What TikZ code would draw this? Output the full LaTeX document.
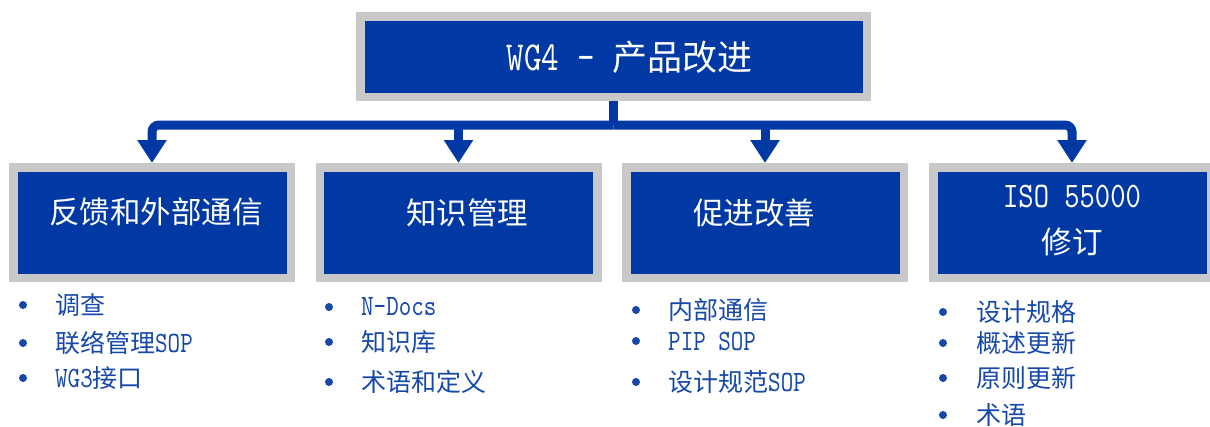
\documentclass[tikz,border=0pt]{standalone}
\usepackage{fontspec}
\setmainfont{Noto Sans CJK SC}
\newfontfamily\lat[Scale=1.18,FakeStretch=0.81]{lmmono10-regular.otf}
\usetikzlibrary{arrows.meta}
\definecolor{boxblue}{RGB}{0,57,163}
\definecolor{boxgray}{RGB}{200,200,200}
\definecolor{txtblue}{RGB}{22,72,170}
\begin{document}
\begin{tikzpicture}[x=1pt,y=-1pt,
  box/.style={draw=boxgray, fill=boxblue, line width=8.5pt, minimum width=277.5pt, minimum height=110.5pt, inner sep=0pt},
  topbox/.style={box, minimum width=506.5pt, minimum height=80.5pt},
  title/.style={text=white, font=\fontsize{30.5}{36}\selectfont, inner sep=0pt},
  item/.style={text=txtblue, font=\fontsize{25}{30}\selectfont, anchor=west, inner sep=0pt},
  bul/.style={fill=txtblue},
  conn/.style={draw=boxblue, line width=9pt},
  arr/.style={conn, -{Triangle[width=28pt,length=23pt]}},
]
\useasboundingbox (0,0) rectangle (1210,426);
\clip (0,0) rectangle (1210,426);

% boxes
\node[topbox] (top) at (613.5,56.5) {};
\node[box] (b1) at (152,222.5) {};
\node[box] (b2) at (458.5,222.5) {};
\node[box] (b3) at (765,222.5) {};
\node[box] (b4) at (1072,222.5) {};

% titles
\node[title, font=\fontsize{35}{40}\selectfont] (ttop) at (629.5,57) {{\lat WG4 - }产品改进};
\node[title] (t1) at (156,212) {反馈和外部通信};
\node[title] (t2) at (467,213) {知识管理};
\node[title] (t3) at (754,213) {促进改善};
\node[title] (t4a) at (1072,197) {{\lat ISO 55000}};
\node[title] (t4b) at (1072,242) {修订};

% connectors
\coordinate (hub) at (613.5,125);
\draw[conn] (top.south) -- (hub);
\draw[arr, rounded corners=7pt] (hub) -| (b1.north);
\draw[arr, rounded corners=7pt] (hub) -| (b4.north);
\draw[arr] (hub -| b2.north) -- (b2.north);
\draw[arr] (hub -| b3.north) -- (b3.north);

% lists
\fill[bul] (23,305) circle (4pt);
\fill[bul] (23,343) circle (4pt);
\fill[bul] (23,378) circle (4pt);
\node[item] (i11) at (55,305) {调查};
\node[item] (i12) at (55,343) {联络管理{\lat SOP}};
\node[item] (i13) at (55,378) {{\lat WG3}接口};

\fill[bul] (329,307) circle (4pt);
\fill[bul] (329,342) circle (4pt);
\fill[bul] (329,382) circle (4pt);
\node[item] (i21) at (361,307) {{\lat N-Docs}};
\node[item] (i22) at (361,342) {知识库};
\node[item] (i23) at (361,382) {术语和定义};

\fill[bul] (636,310) circle (4pt);
\fill[bul] (636,341) circle (4pt);
\fill[bul] (636,382) circle (4pt);
\node[item] (i31) at (668,310) {内部通信};
\node[item] (i32) at (668,341) {{\lat PIP SOP}};
\node[item] (i33) at (668,382) {设计规范{\lat SOP}};

\fill[bul] (943,312) circle (4pt);
\fill[bul] (943,343) circle (4pt);
\fill[bul] (943,378) circle (4pt);
\fill[bul] (943,415) circle (4pt);
\node[item] (i41) at (976,312) {设计规格};
\node[item] (i42) at (976,343) {概述更新};
\node[item] (i43) at (976,378) {原则更新};
\node[item] (i44) at (976,415) {术语};
\end{tikzpicture}
\end{document}
